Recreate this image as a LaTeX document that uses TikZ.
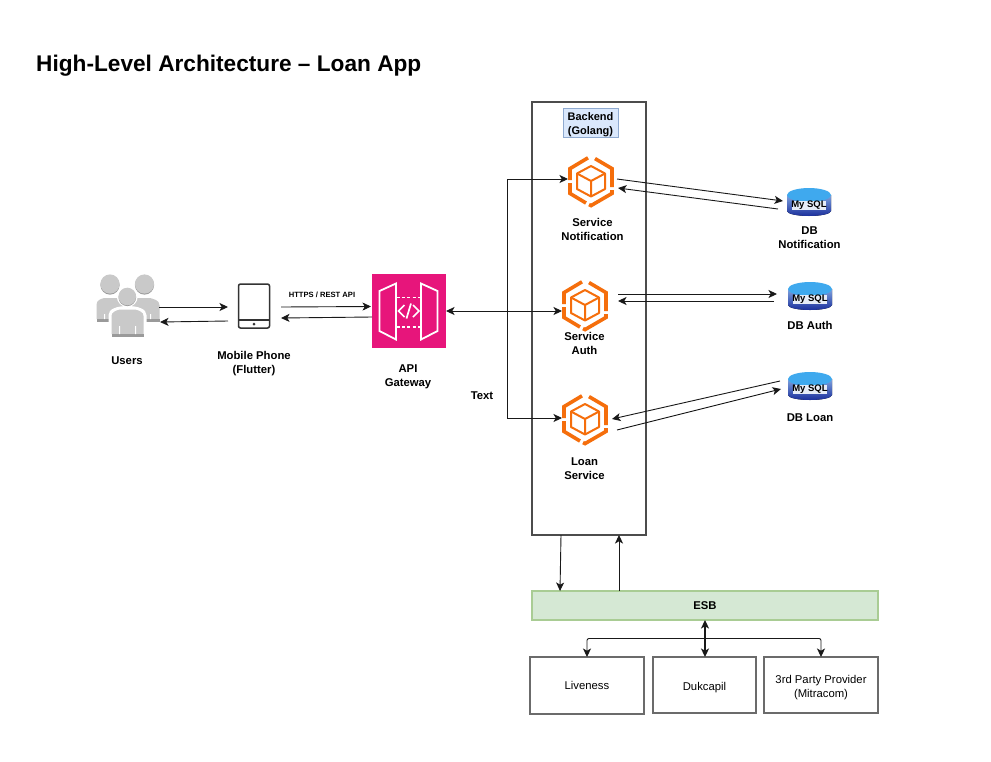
\documentclass[tikz,border=0pt]{standalone}
\usepackage{fontspec}
\setmainfont{Liberation Sans}
\usetikzlibrary{arrows.meta,calc}
\definecolor{awsorange}{HTML}{F56E0C}
\definecolor{awspink}{HTML}{E7157B}
\definecolor{usergray}{HTML}{C9C9C9}
\definecolor{userdark}{HTML}{9A9A9A}
\definecolor{phoneink}{HTML}{333333}
\definecolor{boxblue}{HTML}{DAE8FC}
\definecolor{boxblueline}{HTML}{8FAAD0}
\definecolor{esbfill}{HTML}{D5E8D4}
\definecolor{esbline}{HTML}{A9CC94}
\definecolor{dbtop}{HTML}{3FA9EE}
\definecolor{dbmid}{HTML}{7FA3DE}
\definecolor{dbbot}{HTML}{1B2F9C}
\definecolor{dbband}{HTML}{E6ECF7}
\tikzset{
  conn/.style={draw=black!90,line width=0.9pt,-{Stealth[length=8.5pt,width=8pt,inset=2.2pt]}},
  connboth/.style={conn,{Stealth[length=8.5pt,width=8pt,inset=2.2pt]}-{Stealth[length=8.5pt,width=8pt,inset=2.2pt]}},
  iconbox/.style={inner sep=0pt,outer sep=0pt},
  lbl/.style={font=\fontsize{11.3}{14}\selectfont\bfseries,align=center,text=black,inner sep=0pt},
  extbox/.style={draw=black!58,line width=1.3pt,fill=white,inner sep=0pt,outer sep=0pt,font=\fontsize{11.3}{14}\selectfont},
}
\newcommand{\serviceicon}[1]{%
  \begin{scope}[shift={(#1)},draw=awsorange,line cap=butt,line join=miter]
    \draw[line width=3.6pt] (-3,-23.2) -- (-21,-12.4) -- (-21,-1);
    \draw[line width=3.6pt] (-21,2) -- (-21,12.4) -- (-5,22);
    \draw[line width=3.6pt] (-2,23.6) -- (0,24.6) -- (21,12.4) -- (21,9);
    \draw[line width=3.6pt] (21,6) -- (21,-12.4) -- (4,-22.4);
    \draw[line width=2pt,line join=round] (0,-15) -- (14,-7.5) -- (14,8) -- (0,15.5) -- (-14,8) -- (-14,-7.5) -- cycle;
    \draw[line width=2pt,line join=round] (-14,-7.5) -- (0,0) -- (14,-7.5) (0,0) -- (0,15.5);
  \end{scope}}
\newcommand{\mysqlicon}[1]{%
  \begin{scope}[shift={(#1)}]
    \fill[top color=dbmid,bottom color=dbbot]
      (-22,-7) -- (-22,9) arc[start angle=180,end angle=0,x radius=22,y radius=5] -- (22,-7) -- cycle;
    \fill[dbtop] (0,-7) ellipse[x radius=22,y radius=7];
    \fill[dbband] (-17,-1.5) rectangle (17,7.5);
    \node[inner sep=0pt,font=\fontsize{9.5}{10}\selectfont\bfseries] at (0,3) {My SQL};
  \end{scope}}
\begin{document}
\begin{tikzpicture}[x=1pt,y=-1pt]
\useasboundingbox (0,0) rectangle (991,761);
\fill[white] (0,0) rectangle (991,761);

\node[anchor=base west,inner sep=0pt,font=\fontsize{22.65}{28}\selectfont\bfseries] (title) at (36,71) {High-Level Architecture – Loan App};

% backend container
\node[draw=black!70,line width=1.1pt,minimum width=114pt,minimum height=433pt,inner sep=0pt,outer sep=0pt] (backend) at (589,318.5) {};
\node[draw=boxblueline,fill=boxblue,line width=0.9pt,minimum width=55pt,minimum height=29pt,inner sep=0pt,font=\fontsize{11}{14}\selectfont\bfseries,align=center] (backendlbl) at (590.5,122.5) {\rule{0pt}{12pt}Backend\\(Golang)};

% users
\node[iconbox,minimum width=64pt,minimum height=62pt] (users) at (128,306) {};
\begin{scope}
  \fill[userdark] (110,285) circle[radius=9.6];
  \fill[userdark] (144.5,285) circle[radius=9.6];
  \fill[usergray] (110,284) circle[radius=9.6];
  \fill[usergray] (144.5,284) circle[radius=9.6];
  \fill[usergray] (96.5,319) -- (96.5,305) .. controls (96.5,300) and (101,299) .. (104,298) -- (116,298) .. controls (119,299) and (126,300) .. (126,305) -- (126,319) -- cycle;
  \fill[usergray] (129,319) -- (129,305) .. controls (129,300) and (135,299) .. (138,298) -- (150,298) .. controls (153,299) and (159.5,300) .. (159.5,305) -- (159.5,319) -- cycle;
  \fill[userdark] (96.5,319) rectangle (113,322);
  \fill[userdark] (143,319) rectangle (159.5,322);
  \fill[white] (108.5,337) -- (108.5,315) .. controls (108.5,309) and (117,306) .. (127.5,306) .. controls (138,306) and (146.5,309) .. (146.5,315) -- (146.5,337) -- cycle;
  \fill[white] (127.3,296.5) circle[radius=10.5];
  \fill[userdark] (127.3,297.3) circle[radius=8.8];
  \fill[usergray] (127.3,296.5) circle[radius=8.8];
  \fill[usergray] (111.5,334) -- (111.5,316) .. controls (111.5,312) and (116,310.5) .. (120,309.5) -- (135,309.5) .. controls (139,310.5) and (143.5,312) .. (143.5,316) -- (143.5,334) -- cycle;
  \fill[userdark] (111.5,334) rectangle (143.5,337);
  \fill[white] (119,326) rectangle (120,334) (135,326) rectangle (136,334);
  \fill[white] (104,314) rectangle (105,319) (150,314) rectangle (151,319);
\end{scope}
\node[lbl] (userslbl) at (127,360.5) {Users};

% phone
\node[iconbox,minimum width=32pt,minimum height=45pt] (phone) at (254,306) {};
\draw[phoneink,line width=1.5pt,rounded corners=2pt] (238.5,284) rectangle (269.5,328);
\draw[phoneink,line width=1.3pt] (238.5,320) -- (269.5,320);
\fill[phoneink] (254,324) circle[radius=1.5];
\node[lbl] (phonelbl) at (254,363.5) {Mobile Phone\\(Flutter)};

% API gateway
\node[iconbox,fill=awspink,minimum width=74pt,minimum height=74pt] (api) at (409,311) {};
\draw[white,line width=1.8pt,line join=miter] (379.5,291) -- (396,283.5) -- (396,339.5) -- (379.5,331) -- cycle;
\draw[white,line width=1.8pt,line join=miter] (421,283.5) -- (437.5,291) -- (437.5,331) -- (421,339.5) -- cycle;
\draw[white,line width=1.6pt,dash pattern=on 3pt off 2.2pt] (397,297.5) -- (420,297.5) (397,327) -- (420,327);
\draw[white,line width=1.7pt] (404.5,305) -- (398.5,311) -- (404.5,317);
\draw[white,line width=1.7pt] (413,305) -- (419,311) -- (413,317);
\draw[white,line width=1.7pt] (411,303.5) -- (406.5,318.5);
\node[lbl] (apilbl) at (408,376.5) {API\\Gateway};

% services
\node[iconbox,minimum width=46pt,minimum height=52pt] (notif) at (591,181) {};
\serviceicon{591,181}
\node[lbl] (notiflbl) at (592.5,229.5) {Service\\Notification};
\node[iconbox,minimum width=46pt,minimum height=52pt] (auth) at (585,305) {};
\serviceicon{585,305}
\node[lbl] (authlbl) at (584.5,343.5) {Service\\Auth};
\node[iconbox,minimum width=46pt,minimum height=52pt] (loan) at (585,419) {};
\serviceicon{585,419}
\node[lbl] (loanlbl) at (584.5,468.5) {Loan\\Service};

% databases
\node[iconbox,minimum width=44pt,minimum height=28pt] (dbn) at (809,202) {};
\mysqlicon{809,202}
\node[lbl] (dbnlbl) at (809.5,237.5) {DB\\Notification};
\node[iconbox,minimum width=44pt,minimum height=28pt] (dba) at (810,296) {};
\mysqlicon{810,296}
\node[lbl] (dbalbl) at (810,325) {DB Auth};
\node[iconbox,minimum width=44pt,minimum height=28pt] (dbl) at (810,386) {};
\mysqlicon{810,386}
\node[lbl] (dbllbl) at (810,418) {DB Loan};

% ESB and providers
\node[draw=esbline,fill=esbfill,line width=1.1pt,minimum width=346pt,minimum height=29pt,inner sep=0pt,outer sep=0pt,font=\fontsize{11.3}{14}\selectfont\bfseries] (esb) at (705,605.5) {ESB};
\node[extbox,minimum width=114pt,minimum height=57pt] (live) at (587,685.5) {Liveness};
\node[extbox,minimum width=103pt,minimum height=56pt] (duk) at (704.5,685) {\rule{0pt}{12.4pt}Dukcapil};
\node[extbox,align=center,minimum width=114pt,minimum height=56pt] (third) at (821,685) {\rule{0pt}{14pt}3rd Party Provider\\(Mitracom)};

\node[lbl] (httpslbl) at (322,295) {\fontsize{7.6}{10}\selectfont HTTPS / REST API};
\node[lbl] (textlbl) at (482,396) {Text};

% connectors
\draw[conn] ([shift={(-1,1)}]users.east) -- ([shift={(-10,1)}]phone.west);
\draw[conn] ([shift={(-10,15)}]phone.west) -- ([shift={(0,16)}]users.east);
\draw[conn] ([shift={(11,1)}]phone.east) -- ([shift={(-1,-4.5)}]api.west);
\draw[conn] ([shift={(0,6)}]api.west) -- ([shift={(11,12)}]phone.east);
\draw[connboth] (api.east) -- ([shift={(0,6)}]auth.west);
\coordinate (junc) at (507,311.5);
\draw[conn] (junc) |- ([shift={(0,-2)}]notif.west);
\draw[conn] (junc) |- ([shift={(0,-1)}]loan.west);
\draw[conn] ([shift={(3,-2)}]notif.east) -- ([shift={(-4,-1)}]dbn.west);
\draw[conn] ([shift={(-9,7)}]dbn.west) -- ([shift={(4,7)}]notif.east);
\draw[conn] ([shift={(10,-11)}]auth.east) -- ([shift={(-11,-2)}]dba.west);
\draw[conn] ([shift={(-14,5)}]dba.west) -- ([shift={(10,-4)}]auth.east);
\draw[conn] ([shift={(-8,-5)}]dbl.west) -- ([shift={(4,0)}]loan.east);
\draw[conn] ([shift={(9,11)}]loan.east) -- ([shift={(-7,3)}]dbl.west);
\draw[conn] ([xshift=-28pt]backend.south) -- ([xshift=-145pt]esb.north);
\draw[conn] ([xshift=-86pt]esb.north) -- ([xshift=30pt]backend.south);
\draw[connboth,line width=1.4pt] (esb.south) -- (esb.south |- duk.north);
\coordinate (busmid) at (705,638.5);
\draw[conn,rounded corners=2pt] (busmid) -| (live.north);
\draw[conn,rounded corners=2pt] (busmid) -| (third.north);
\end{tikzpicture}
\end{document}
